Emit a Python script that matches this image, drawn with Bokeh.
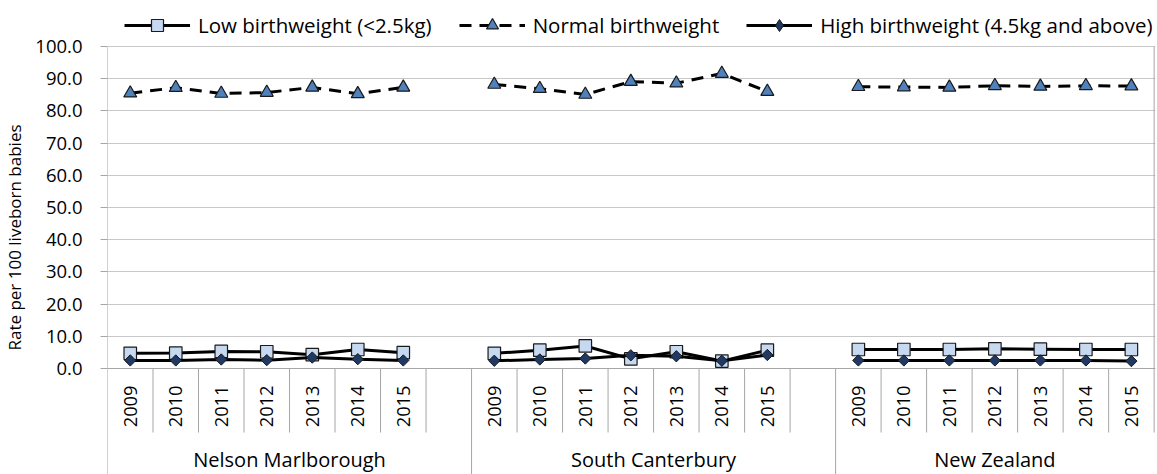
import numpy as np
from bokeh.plotting import figure
from bokeh.models import (Range1d, FixedTicker, NumeralTickFormatter, Legend,
                          LegendItem, Span)
from bokeh.core.properties import value
from bokeh.embed import file_html
from bokeh.resources import INLINE

# ---------------- data ----------------
groups = ["Nelson Marlborough", "South Canterbury", "New Zealand"]
years = ["2009", "2010", "2011", "2012", "2013", "2014", "2015"]

low_nm = [4.7, 4.8, 5.3, 5.2, 4.3, 5.9, 4.9]
low_sc = [4.7, 5.7, 7.0, 3.0, 5.2, 2.3, 5.7]
low_nz = [5.9, 5.9, 5.9, 6.1, 6.0, 5.9, 5.9]

normal_nm = [85.5, 87.2, 85.4, 85.7, 87.3, 85.3, 87.3]
normal_sc = [88.2, 86.9, 85.1, 89.1, 88.6, 91.6, 86.0]
normal_nz = [87.5, 87.4, 87.3, 87.8, 87.6, 87.8, 87.7]

high_nm = [2.5, 2.5, 2.8, 2.6, 3.4, 2.9, 2.5]
high_sc = [2.4, 2.8, 3.1, 4.1, 3.8, 2.4, 4.2]
high_nz = [2.5, 2.5, 2.5, 2.5, 2.5, 2.5, 2.3]

series_names = ["Low birthweight (<2.5kg)", "Normal birthweight",
                "High birthweight (4.5kg and above)"]
y_ticks = [0, 10, 20, 30, 40, 50, 60, 70, 80, 90, 100]

# ---------------- layout helpers ----------------
FONT = "Open Sans"
W, H = 1157, 474
LEFT, RIGHT_B, TOP = 106, 2, 46
PX_PER_UNIT = 3.22
y_max = 100.0
y_top = y_max + TOP / PX_PER_UNIT
y_bottom = y_max - (H - TOP) / PX_PER_UNIT

# slots: each group has its years plus one blank slot (except the last)
group_sizes = [len(years) + 1, len(years) + 1, len(years)]
group_offsets = np.concatenate([[0], np.cumsum(group_sizes)[:-1]])
n_slots = int(sum(group_sizes))


def xs_for(group_index):
    return [group_offsets[group_index] + i + 0.5 for i in range(len(years))]


def joined(vals_per_group):
    xs, ys = [], []
    for gi, vals in enumerate(vals_per_group):
        if gi:
            xs.append(np.nan)
            ys.append(np.nan)
        xs += xs_for(gi)
        ys += list(vals)
    return xs, ys


p = figure(width=W, height=H, output_backend="svg", toolbar_location=None,
           x_range=Range1d(0, n_slots + 0.03), y_range=Range1d(y_bottom, y_top),
           x_axis_location=None, min_border_left=LEFT, min_border_right=RIGHT_B,
           min_border_top=0, min_border_bottom=0, title=None)
p.outline_line_color = None
p.background_fill_color = "white"
p.border_fill_color = "white"
p.xgrid.visible = False

AXC = "#A6A6A6"
# y axis (line drawn separately so it can run from 100 down to the bottom)
ax = p.yaxis[0]
ax.ticker = FixedTicker(ticks=y_ticks)
ax.formatter = NumeralTickFormatter(format="0.0")
ax.axis_line_color = None
ax.major_tick_line_color = AXC
ax.major_tick_out = 7
ax.major_tick_in = 0
ax.minor_tick_line_color = None
ax.major_label_standoff = 18
ax.major_label_text_font = FONT
ax.major_label_text_font_size = "18.5px"
ax.major_label_text_color = "black"
ax.axis_label = "Rate per 100 liveborn babies"
ax.axis_label_text_font = FONT
ax.axis_label_text_font_size = "17px"
ax.axis_label_text_font_style = "normal"
ax.axis_label_text_color = "black"
ax.axis_label_standoff = 6

p.ygrid.ticker = FixedTicker(ticks=y_ticks)
p.ygrid.grid_line_color = "#C8C8C8"
p.ygrid.grid_line_width = 1

# zero line (category axis)
p.add_layout(Span(location=0, dimension="width", line_color=AXC, line_width=1))

# category separators
short_x = [k for k in range(1, n_slots + 1) if k not in group_offsets]
short_y1 = -64 / PX_PER_UNIT
p.segment(x0=short_x, y0=[0] * len(short_x), x1=short_x, y1=[short_y1] * len(short_x),
          line_color=AXC, line_width=1)
long_x = [int(o) for o in group_offsets]
p.segment(x0=long_x, y0=[y_max if o == 0 else 0 for o in long_x], x1=long_x,
          y1=[y_bottom] * len(long_x), line_color=AXC, line_width=1)
# right border of plot area
p.segment(x0=[n_slots], y0=[0], x1=[n_slots], y1=[y_max], line_color=AXC, line_width=1)

# year labels
all_year_x, all_year_t = [], []
for gi in range(len(groups)):
    all_year_x += xs_for(gi)
    all_year_t += years
p.text(x=all_year_x, y=[-17 / PX_PER_UNIT] * len(all_year_x), text=all_year_t,
       angle=np.pi / 2, text_align="right", text_baseline="middle",
       text_font=value(FONT), text_font_size="18.3px", text_color="black")

# group labels
gx = [group_offsets[i] + group_sizes[i] / 2 for i in range(len(groups))]
p.text(x=gx, y=[-91 / PX_PER_UNIT] * len(gx), text=groups,
       text_align="center", text_baseline="middle",
       text_font=value(FONT), text_font_size="20px", text_color="black")

# series
lx, ly = joined([low_nm, low_sc, low_nz])
nx, ny = joined([normal_nm, normal_sc, normal_nz])
hx, hy = joined([high_nm, high_sc, high_nz])

r_low_l = p.line(lx, ly, line_color="black", line_width=3)
r_low_m = p.scatter(lx, ly, marker="square", size=12.5, fill_color="#C6D9F1",
                    line_color="#1a1a1a", line_width=1.2)
r_nor_l = p.line(nx, ny, line_color="black", line_width=3, line_dash="12 8")
r_nor_m = p.scatter(nx, ny, marker="triangle", size=13, fill_color="#4F81BD",
                    line_color="#1a1a1a", line_width=1.2)
r_hi_l = p.line(hx, hy, line_color="black", line_width=3)
r_hi_m = p.scatter(hx, hy, marker="square", angle=np.pi / 4, size=8, fill_color="#1F3864",
                   line_color="#1a1a1a", line_width=1)
# legend-only (hidden) diamond marker, since legend swatches ignore marker angle
r_hi_leg = p.scatter(hx, hy, marker="diamond", fill_color="#1F3864",
                     line_color="#1a1a1a", line_width=1, visible=False)

legend = Legend(items=[
    LegendItem(label=series_names[0], renderers=[r_low_l, r_low_m]),
    LegendItem(label=series_names[1], renderers=[r_nor_l, r_nor_m]),
    LegendItem(label=series_names[2], renderers=[r_hi_l, r_hi_leg]),
], orientation="horizontal", location=(17, H - 6 - 34), glyph_width=66, glyph_height=30,
    label_standoff=8, spacing=27, padding=2, margin=0, border_line_color=None,
    background_fill_alpha=0, label_text_font=FONT, label_text_font_size="20.5px",
    label_text_color="black", label_height=30)
p.add_layout(legend, "center")

open("out.html", "w").write(file_html(p, INLINE))
